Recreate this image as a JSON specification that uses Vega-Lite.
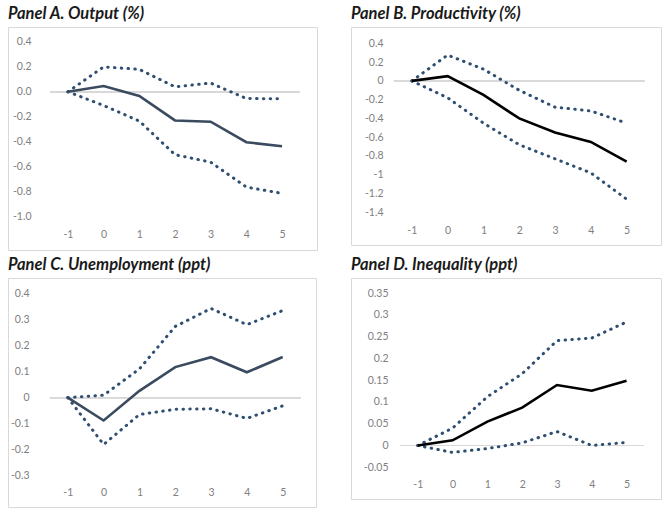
{
  "$schema": "https://vega.github.io/schema/vega-lite/v6.json",
  "padding": {"left": 7, "top": 5, "right": 0, "bottom": 0},
  "datasets": {
    "d": [
      {"panel": "A", "series": "est", "h": -1, "v": 0},
      {"panel": "A", "series": "est", "h": 0, "v": 0.046},
      {"panel": "A", "series": "est", "h": 1, "v": -0.033},
      {"panel": "A", "series": "est", "h": 2, "v": -0.23},
      {"panel": "A", "series": "est", "h": 3, "v": -0.24},
      {"panel": "A", "series": "est", "h": 4, "v": -0.405},
      {"panel": "A", "series": "est", "h": 5, "v": -0.437},
      {"panel": "A", "series": "upper", "h": -1, "v": 0},
      {"panel": "A", "series": "upper", "h": 0, "v": 0.2},
      {"panel": "A", "series": "upper", "h": 1, "v": 0.18},
      {"panel": "A", "series": "upper", "h": 2, "v": 0.04},
      {"panel": "A", "series": "upper", "h": 3, "v": 0.07},
      {"panel": "A", "series": "upper", "h": 4, "v": -0.054},
      {"panel": "A", "series": "upper", "h": 5, "v": -0.057},
      {"panel": "A", "series": "lower", "h": -1, "v": 0},
      {"panel": "A", "series": "lower", "h": 0, "v": -0.11},
      {"panel": "A", "series": "lower", "h": 1, "v": -0.235},
      {"panel": "A", "series": "lower", "h": 2, "v": -0.505},
      {"panel": "A", "series": "lower", "h": 3, "v": -0.565},
      {"panel": "A", "series": "lower", "h": 4, "v": -0.765},
      {"panel": "A", "series": "lower", "h": 5, "v": -0.815},
      {"panel": "B", "series": "est", "h": -1, "v": 0},
      {"panel": "B", "series": "est", "h": 0, "v": 0.05},
      {"panel": "B", "series": "est", "h": 1, "v": -0.15},
      {"panel": "B", "series": "est", "h": 2, "v": -0.4},
      {"panel": "B", "series": "est", "h": 3, "v": -0.55},
      {"panel": "B", "series": "est", "h": 4, "v": -0.65},
      {"panel": "B", "series": "est", "h": 5, "v": -0.86},
      {"panel": "B", "series": "upper", "h": -1, "v": 0},
      {"panel": "B", "series": "upper", "h": 0, "v": 0.275},
      {"panel": "B", "series": "upper", "h": 1, "v": 0.125},
      {"panel": "B", "series": "upper", "h": 2, "v": -0.1},
      {"panel": "B", "series": "upper", "h": 3, "v": -0.28},
      {"panel": "B", "series": "upper", "h": 4, "v": -0.32},
      {"panel": "B", "series": "upper", "h": 5, "v": -0.45},
      {"panel": "B", "series": "lower", "h": -1, "v": 0},
      {"panel": "B", "series": "lower", "h": 0, "v": -0.18},
      {"panel": "B", "series": "lower", "h": 1, "v": -0.45},
      {"panel": "B", "series": "lower", "h": 2, "v": -0.68},
      {"panel": "B", "series": "lower", "h": 3, "v": -0.83},
      {"panel": "B", "series": "lower", "h": 4, "v": -0.98},
      {"panel": "B", "series": "lower", "h": 5, "v": -1.26},
      {"panel": "C", "series": "est", "h": -1, "v": 0},
      {"panel": "C", "series": "est", "h": 0, "v": -0.088},
      {"panel": "C", "series": "est", "h": 1, "v": 0.026},
      {"panel": "C", "series": "est", "h": 2, "v": 0.117},
      {"panel": "C", "series": "est", "h": 3, "v": 0.155},
      {"panel": "C", "series": "est", "h": 4, "v": 0.097},
      {"panel": "C", "series": "est", "h": 5, "v": 0.156},
      {"panel": "C", "series": "upper", "h": -1, "v": 0},
      {"panel": "C", "series": "upper", "h": 0, "v": 0.009},
      {"panel": "C", "series": "upper", "h": 1, "v": 0.11},
      {"panel": "C", "series": "upper", "h": 2, "v": 0.273},
      {"panel": "C", "series": "upper", "h": 3, "v": 0.342},
      {"panel": "C", "series": "upper", "h": 4, "v": 0.28},
      {"panel": "C", "series": "upper", "h": 5, "v": 0.334},
      {"panel": "C", "series": "lower", "h": -1, "v": 0},
      {"panel": "C", "series": "lower", "h": 0, "v": -0.18},
      {"panel": "C", "series": "lower", "h": 1, "v": -0.065},
      {"panel": "C", "series": "lower", "h": 2, "v": -0.045},
      {"panel": "C", "series": "lower", "h": 3, "v": -0.043},
      {"panel": "C", "series": "lower", "h": 4, "v": -0.08},
      {"panel": "C", "series": "lower", "h": 5, "v": -0.032},
      {"panel": "D", "series": "est", "h": -1, "v": 0},
      {"panel": "D", "series": "est", "h": 0, "v": 0.012},
      {"panel": "D", "series": "est", "h": 1, "v": 0.055},
      {"panel": "D", "series": "est", "h": 2, "v": 0.087},
      {"panel": "D", "series": "est", "h": 3, "v": 0.139},
      {"panel": "D", "series": "est", "h": 4, "v": 0.126},
      {"panel": "D", "series": "est", "h": 5, "v": 0.149},
      {"panel": "D", "series": "upper", "h": -1, "v": 0},
      {"panel": "D", "series": "upper", "h": 0, "v": 0.04},
      {"panel": "D", "series": "upper", "h": 1, "v": 0.112},
      {"panel": "D", "series": "upper", "h": 2, "v": 0.165},
      {"panel": "D", "series": "upper", "h": 3, "v": 0.241},
      {"panel": "D", "series": "upper", "h": 4, "v": 0.247},
      {"panel": "D", "series": "upper", "h": 5, "v": 0.284},
      {"panel": "D", "series": "lower", "h": -1, "v": 0},
      {"panel": "D", "series": "lower", "h": 0, "v": -0.016},
      {"panel": "D", "series": "lower", "h": 1, "v": -0.007},
      {"panel": "D", "series": "lower", "h": 2, "v": 0.006},
      {"panel": "D", "series": "lower", "h": 3, "v": 0.032},
      {"panel": "D", "series": "lower", "h": 4, "v": 0.0},
      {"panel": "D", "series": "lower", "h": 5, "v": 0.007}
    ]
  },
  "columns": 2,
  "spacing": {"row": 28, "column": 34},
  "bounds": "flush",
  "align": "each",
  "concat": [
    {
      "width": 309, "height": 223,
      "title": "Panel A. Output (%)",
      "data": {"name": "d"},
      "transform": [{"filter": "datum.panel == 'A'"}],
      "layer": [
        {"mark": {"type": "rule", "color": "#d9d9d9", "strokeWidth": 1},
         "encoding": {
           "x": {"datum": -1.5, "type": "quantitative", "scale": {"domain": [-2.68, 5.98], "nice": false, "zero": false}, "axis": {"values": [-1,0,1,2,3,4,5], "offset": -23, "title": null}},
           "x2": {"datum": 5.5},
           "y": {"datum": 0, "type": "quantitative", "scale": {"domain": [-1.27, 0.52], "nice": false, "zero": false}, "axis": {"values": [-1,-0.8,-0.6,-0.4,-0.2,0,0.2,0.4], "format": ".1f", "offset": -25, "title": null}}}},
        {"transform": [{"filter": "datum.series != 'est'"}],
         "mark": {"type": "line", "color": "#2f4f72", "strokeWidth": 3, "strokeDash": [0.5, 6.3], "strokeCap": "round"},
         "encoding": {
           "x": {"field": "h", "type": "quantitative", "axis": {"values": [-1,0,1,2,3,4,5], "offset": -23, "title": null}},
           "y": {"field": "v", "type": "quantitative", "axis": {"values": [-1,-0.8,-0.6,-0.4,-0.2,0,0.2,0.4], "format": ".1f", "offset": -25, "title": null}},
           "detail": {"field": "series"}}},
        {"transform": [{"filter": "datum.series == 'est'"}],
         "mark": {"type": "line", "color": "#3a4a5f", "strokeWidth": 2.6},
         "encoding": {
           "x": {"field": "h", "type": "quantitative", "axis": {"values": [-1,0,1,2,3,4,5], "offset": -23, "title": null}},
           "y": {"field": "v", "type": "quantitative", "axis": {"values": [-1,-0.8,-0.6,-0.4,-0.2,0,0.2,0.4], "format": ".1f", "offset": -25, "title": null}}}}
      ]
    },
    {
      "width": 310, "height": 218,
      "title": "Panel B. Productivity (%)",
      "data": {"name": "d"},
      "transform": [{"filter": "datum.panel == 'B'"}],
      "layer": [
        {"mark": {"type": "rule", "color": "#d9d9d9", "strokeWidth": 1},
         "encoding": {
           "x": {"datum": -1.5, "type": "quantitative", "scale": {"domain": [-2.7, 5.96], "nice": false, "zero": false}, "axis": {"values": [-1,0,1,2,3,4,5], "offset": -22, "title": null}},
           "x2": {"datum": 5.5},
           "y": {"datum": 0, "type": "quantitative", "scale": {"domain": [-1.748, 0.574], "nice": false, "zero": false}, "axis": {"values": [-1.4,-1.2,-1,-0.8,-0.6,-0.4,-0.2,0,0.2,0.4], "format": "~g", "offset": -34, "title": null}}}},
        {"transform": [{"filter": "datum.series != 'est'"}],
         "mark": {"type": "line", "color": "#2f4f72", "strokeWidth": 3, "strokeDash": [0.5, 6.3], "strokeCap": "round"},
         "encoding": {
           "x": {"field": "h", "type": "quantitative", "axis": {"values": [-1,0,1,2,3,4,5], "offset": -22, "title": null}},
           "y": {"field": "v", "type": "quantitative", "axis": {"values": [-1.4,-1.2,-1,-0.8,-0.6,-0.4,-0.2,0,0.2,0.4], "format": "~g", "offset": -34, "title": null}},
           "detail": {"field": "series"}}},
        {"transform": [{"filter": "datum.series == 'est'"}],
         "mark": {"type": "line", "color": "#000000", "strokeWidth": 2.6},
         "encoding": {
           "x": {"field": "h", "type": "quantitative", "axis": {"values": [-1,0,1,2,3,4,5], "offset": -22, "title": null}},
           "y": {"field": "v", "type": "quantitative", "axis": {"values": [-1.4,-1.2,-1,-0.8,-0.6,-0.4,-0.2,0,0.2,0.4], "format": "~g", "offset": -34, "title": null}}}}
      ]
    },
    {
      "width": 308, "height": 229,
      "title": "Panel C. Unemployment (ppt)",
      "data": {"name": "d"},
      "transform": [{"filter": "datum.panel == 'C'"}],
      "layer": [
        {"mark": {"type": "rule", "color": "#d9d9d9", "strokeWidth": 1},
         "encoding": {
           "x": {"datum": -1.5, "type": "quantitative", "scale": {"domain": [-2.67, 5.93], "nice": false, "zero": false}, "axis": {"values": [-1,0,1,2,3,4,5], "offset": -22, "title": null}},
           "x2": {"datum": 5.5},
           "y": {"datum": 0, "type": "quantitative", "scale": {"domain": [-0.42, 0.459], "nice": false, "zero": false}, "axis": {"values": [-0.3,-0.2,-0.1,0,0.1,0.2,0.3,0.4], "format": "~g", "offset": -23, "title": null}}}},
        {"transform": [{"filter": "datum.series != 'est'"}],
         "mark": {"type": "line", "color": "#2f4f72", "strokeWidth": 3, "strokeDash": [0.5, 6.3], "strokeCap": "round"},
         "encoding": {
           "x": {"field": "h", "type": "quantitative", "axis": {"values": [-1,0,1,2,3,4,5], "offset": -22, "title": null}},
           "y": {"field": "v", "type": "quantitative", "axis": {"values": [-0.3,-0.2,-0.1,0,0.1,0.2,0.3,0.4], "format": "~g", "offset": -23, "title": null}},
           "detail": {"field": "series"}}},
        {"transform": [{"filter": "datum.series == 'est'"}],
         "mark": {"type": "line", "color": "#3a4a5f", "strokeWidth": 2.6},
         "encoding": {
           "x": {"field": "h", "type": "quantitative", "axis": {"values": [-1,0,1,2,3,4,5], "offset": -22, "title": null}},
           "y": {"field": "v", "type": "quantitative", "axis": {"values": [-0.3,-0.2,-0.1,0,0.1,0.2,0.3,0.4], "format": "~g", "offset": -23, "title": null}}}}
      ]
    },
    {
      "width": 310, "height": 221,
      "title": "Panel D. Inequality (ppt)",
      "data": {"name": "d"},
      "transform": [{"filter": "datum.panel == 'D'"}],
      "layer": [
        {"mark": {"type": "rule", "color": "#d9d9d9", "strokeWidth": 1},
         "encoding": {
           "x": {"datum": -1.5, "type": "quantitative", "scale": {"domain": [-2.92, 5.99], "nice": false, "zero": false}, "axis": {"values": [-1,0,1,2,3,4,5], "offset": -22, "title": null}},
           "x2": {"datum": 5.5},
           "y": {"datum": 0, "type": "quantitative", "scale": {"domain": [-0.123, 0.385], "nice": false, "zero": false}, "axis": {"values": [-0.05,0,0.05,0.1,0.15,0.2,0.25,0.3,0.35], "format": "~g", "offset": -39, "title": null}}}},
        {"transform": [{"filter": "datum.series != 'est'"}],
         "mark": {"type": "line", "color": "#2f4f72", "strokeWidth": 3, "strokeDash": [0.5, 6.3], "strokeCap": "round"},
         "encoding": {
           "x": {"field": "h", "type": "quantitative", "axis": {"values": [-1,0,1,2,3,4,5], "offset": -22, "title": null}},
           "y": {"field": "v", "type": "quantitative", "axis": {"values": [-0.05,0,0.05,0.1,0.15,0.2,0.25,0.3,0.35], "format": "~g", "offset": -39, "title": null}},
           "detail": {"field": "series"}}},
        {"transform": [{"filter": "datum.series == 'est'"}],
         "mark": {"type": "line", "color": "#000000", "strokeWidth": 2.6},
         "encoding": {
           "x": {"field": "h", "type": "quantitative", "axis": {"values": [-1,0,1,2,3,4,5], "offset": -22, "title": null}},
           "y": {"field": "v", "type": "quantitative", "axis": {"values": [-0.05,0,0.05,0.1,0.15,0.2,0.25,0.3,0.35], "format": "~g", "offset": -39, "title": null}}}}
      ]
    }
  ],
  "config": {
    "locale": {"number": {"decimal": ".", "thousands": ",", "grouping": [3], "currency": ["$", ""], "minus": "-"}},
    "view": {"stroke": "#d9d9d9", "strokeWidth": 1},
    "title": {"anchor": "start", "font": "Lato", "fontStyle": "italic", "fontWeight": "bold", "fontSize": 16.5, "color": "#1a1a1a", "offset": 5},
    "axis": {"domain": false, "ticks": false, "tickSize": 0, "grid": false, "labelFont": "Lato", "labelFontSize": 10.5, "labelColor": "#808080", "labelPadding": 2}
  }
}
